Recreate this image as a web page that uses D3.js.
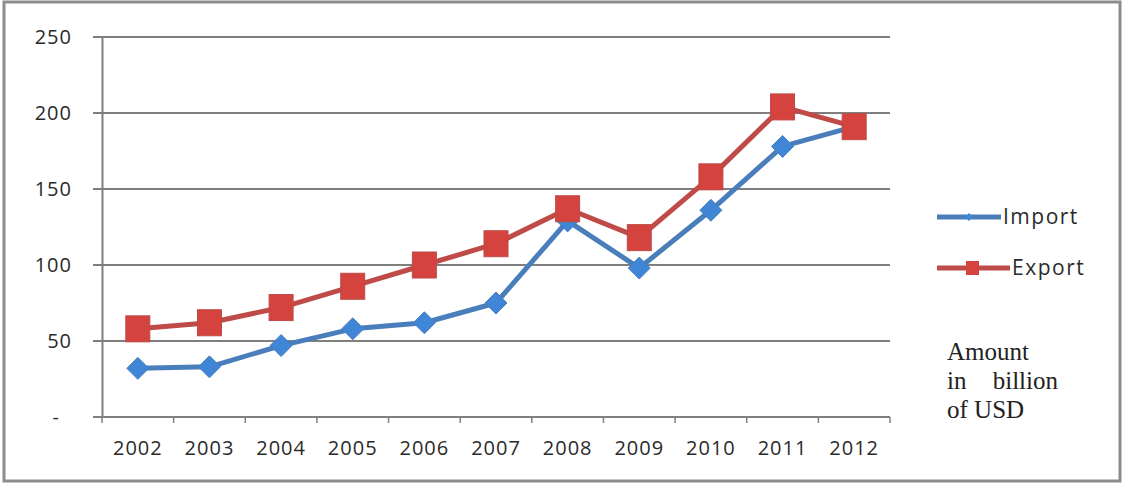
<!DOCTYPE html>
<html lang="en">
<head>
<meta charset="utf-8">
<title>Import / Export</title>
<script src="https://d3js.org/d3.v7.min.js"></script>
<style>
  body { margin: 0; background: #fff; }
  .tick text { font-family: "Open Sans", sans-serif; font-size: 20px; fill: #2a2a2a; letter-spacing: 1px; }
  .legend text { font-family: "Open Sans", sans-serif; font-size: 21px; fill: #2a2a2a; letter-spacing: 1.5px; }
  .note { font-family: "Liberation Serif", serif; font-size: 25px; fill: #222; }
</style>
</head>
<body>
<svg width="1131" height="483"></svg>
<script>
  var years = ["2002","2003","2004","2005","2006","2007","2008","2009","2010","2011","2012"];
  var importVals = [32, 33, 47, 58, 62, 75, 129, 98, 136, 178, 191];
  var exportVals = [58, 62, 72, 86, 100, 114, 137, 118, 158, 204, 191];
  var yTicks = [0, 50, 100, 150, 200, 250];

  var svg = d3.select("svg");

  // outer frame
  svg.append("rect")
    .attr("x", 4).attr("y", 2)
    .attr("width", 1116).attr("height", 479)
    .attr("fill", "none")
    .attr("stroke", "#8c8c8c")
    .attr("stroke-width", 3);

  var plotL = 102, plotR = 890, plotT = 37, plotB = 417;

  var x = d3.scaleBand().domain(years).range([plotL, plotR]);
  var y = d3.scaleLinear().domain([0, 250]).range([plotB, plotT]);

  // gridlines
  svg.append("g")
    .selectAll("line")
    .data(yTicks)
    .enter().append("line")
    .attr("x1", plotL - 9).attr("x2", plotR)
    .attr("y1", function(d) { return y(d); })
    .attr("y2", function(d) { return y(d); })
    .attr("stroke", "#7f7f7f")
    .attr("stroke-width", 2);

  // y axis
  var yAxis = svg.append("g")
    .attr("transform", "translate(" + plotL + ",0)")
    .call(d3.axisLeft(y).tickValues(yTicks).tickSize(0).tickPadding(30)
      .tickFormat(function(d) { return d === 0 ? "-" : d; }));
  yAxis.select(".domain").attr("stroke", "#7f7f7f").attr("stroke-width", 2);
  yAxis.selectAll(".tick text").filter(function(d) { return d === 0; }).attr("dx", "-12px");

  // x axis
  var xAxis = svg.append("g")
    .attr("transform", "translate(0," + plotB + ")")
    .call(d3.axisBottom(x).tickSize(0).tickPadding(24));
  xAxis.select(".domain").remove();

  // tick marks between categories
  var edges = years.map(function(d) { return x(d); }).concat([plotR]);
  svg.append("g")
    .selectAll("line")
    .data(edges)
    .enter().append("line")
    .attr("x1", function(d) { return d; }).attr("x2", function(d) { return d; })
    .attr("y1", plotB).attr("y2", plotB + 6)
    .attr("stroke", "#7f7f7f")
    .attr("stroke-width", 1.5);

  var cx = function(d, i) { return x(years[i]) + x.bandwidth() / 2; };
  var line = d3.line()
    .x(function(d, i) { return cx(d, i); })
    .y(function(d) { return y(d); });

  var blue = "#4a7ebb", blueFill = "#3f86d6";
  var red = "#be4b48", redFill = "#d5433f";

  // import
  svg.append("path")
    .datum(importVals)
    .attr("d", line)
    .attr("fill", "none")
    .attr("stroke", blue)
    .attr("stroke-width", 5)
    .attr("stroke-linejoin", "round");

  svg.append("g")
    .selectAll("path")
    .data(importVals)
    .enter().append("path")
    .attr("d", "M0,-11L11,0L0,11L-11,0Z")
    .attr("transform", function(d, i) { return "translate(" + cx(d, i) + "," + y(d) + ")"; })
    .attr("fill", blueFill)
    .attr("stroke", blue)
    .attr("stroke-width", 1);

  // export
  svg.append("path")
    .datum(exportVals)
    .attr("d", line)
    .attr("fill", "none")
    .attr("stroke", red)
    .attr("stroke-width", 5)
    .attr("stroke-linejoin", "round");

  svg.append("g")
    .selectAll("rect")
    .data(exportVals)
    .enter().append("rect")
    .attr("x", function(d, i) { return cx(d, i) - 12; })
    .attr("y", function(d) { return y(d) - 13; })
    .attr("width", 24).attr("height", 26)
    .attr("fill", redFill)
    .attr("stroke", red)
    .attr("stroke-width", 1);

  // legend
  var legend = svg.append("g").attr("class", "legend");
  legend.append("line")
    .attr("x1", 937).attr("x2", 1001).attr("y1", 217).attr("y2", 217)
    .attr("stroke", blue).attr("stroke-width", 5);
  legend.append("path")
    .attr("d", "M0,-4L4,0L0,4L-4,0Z")
    .attr("transform", "translate(969,217)")
    .attr("fill", blueFill);
  legend.append("text")
    .attr("x", 1003).attr("y", 217).attr("dy", "0.35em")
    .text("Import");

  legend.append("line")
    .attr("x1", 937).attr("x2", 1010).attr("y1", 268).attr("y2", 268)
    .attr("stroke", red).attr("stroke-width", 5);
  legend.append("rect")
    .attr("x", 966).attr("y", 261).attr("width", 13).attr("height", 14)
    .attr("fill", redFill);
  legend.append("text")
    .attr("x", 1012).attr("y", 268).attr("dy", "0.35em")
    .text("Export");

  // unit note
  var note = svg.append("text").attr("class", "note");
  note.append("tspan").attr("x", 947).attr("y", 360).text("Amount");
  note.append("tspan").attr("x", 947).attr("y", 389).attr("word-spacing", "20px").text("in billion");
  note.append("tspan").attr("x", 947).attr("y", 418).text("of USD");
</script>
</body>
</html>
